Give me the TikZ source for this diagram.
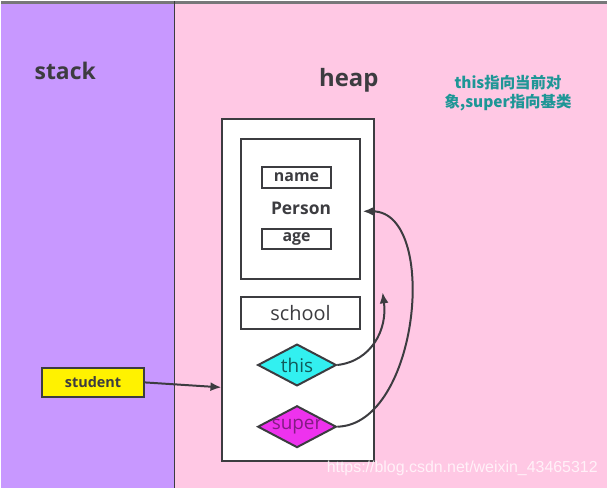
\documentclass[tikz,border=0pt]{standalone}
\usepackage{fontspec}
\setmainfont{Open Sans}
\newfontfamily\cjkfont{Noto Sans CJK SC}
\newfontfamily\wmfont{Liberation Sans}
\usetikzlibrary{positioning}
\usetikzlibrary{shapes.geometric}
\usetikzlibrary{calc}
\usetikzlibrary{arrows.meta}
\colorlet{stackbg}{rgb,255:red,200;green,152;blue,255}
\colorlet{heapbg}{rgb,255:red,255;green,200;blue,228}
\colorlet{ink}{rgb,255:red,60;green,60;blue,64}
\colorlet{note}{rgb,255:red,30;green,150;blue,150}
\colorlet{thisfill}{rgb,255:red,50;green,240;blue,240}
\colorlet{superfill}{rgb,255:red,238;green,50;blue,238}

\begin{document}
\begin{tikzpicture}[x=1pt,y=-1pt, line width=2pt]
        % background regions
        \fill [stackbg] (0,0) rectangle (174,490);
        \fill [heapbg] (174,0) rectangle (608,490);
        \draw [ink!70, line width=3pt] (0,1.5) -- (608,1.5);
        \draw [ink, line width=1.6pt] (174,0) -- (174,490);

        \node [text=ink, font=\bfseries\fontsize{23}{26}\selectfont] (stack) at (64,70) {stack};
        \node [text=ink, font=\bfseries\fontsize{24}{27}\selectfont] (heap) at (349,80) {heap};
        \node [text=note, align=center, font=\cjkfont\bfseries\fontsize{15.5}{19}\selectfont] (hint) at (509,93)
            {this指向当前对\\象,super指向基类};

        % the object on the heap
        \node [draw=ink, fill=white, minimum width=152pt, minimum height=343pt] (obj) at (298,290.5) {};
        \node [draw=ink, fill=white, minimum width=119pt, minimum height=141pt] (person) at (300.5,209.5) {};
        \node [text=ink, font=\bfseries\fontsize{17.5}{20}\selectfont] (pname) at (301,209) {Person};
        \node [draw=ink, minimum width=69pt, minimum height=21pt, inner sep=0pt, text=ink,
            font=\bfseries\fontsize{16}{18}\selectfont] (name) at (296.5,177.5) {name};
        \node [draw=ink, minimum width=69pt, minimum height=20pt, inner sep=0pt, text=ink,
            font=\bfseries\fontsize{16}{18}\selectfont] (age) at (296.5,239) {age};
        \node [draw=ink, minimum width=119pt, minimum height=32pt, inner sep=0pt, text=ink,
            font=\fontsize{20}{22}\selectfont] (school) at (300.5,314) {school};
        \node [diamond, draw=ink, fill=thisfill, minimum width=79pt, minimum height=42pt, inner sep=0pt,
            label={[text=note!60!black, font=\fontsize{19}{21}\selectfont]center:this}] (this) at (297,366) {};
        \node [diamond, draw=ink, fill=superfill, minimum width=79pt, minimum height=42pt, inner sep=0pt,
            label={[text=superfill!55!black, font=\fontsize{19}{21}\selectfont]center:super}] (super) at (297,428) {};

        % the variable on the stack
        \node [draw=ink, fill=yellow, minimum width=102pt, minimum height=29pt, inner sep=0pt, text=ink,
            font=\bfseries\fontsize{14.5}{16}\selectfont] (student) at (92,383.5) {student};

        \coordinate (thistip) at (383,293);
        \draw [ink, -{Latex[length=11pt,width=9pt]}] (student.east) -- ($(obj.south west)!0.216!(obj.north west)$);
        \draw [ink, -{Latex[length=11pt,width=9pt]}] (this.east) .. controls (372,362) and (388,330) .. (thistip);
        \draw [ink, -{Latex[length=11pt,width=9pt]}] (super.east) .. controls (420,426) and (440,212) .. ($(person.east)+(2,2)$);

        \node [text=white, opacity=0.75, font=\wmfont\fontsize{16}{18}\selectfont] (mark) at (463,470)
            {https://blog.csdn.net/weixin\_43465312};
    \end{tikzpicture}
\end{document}
